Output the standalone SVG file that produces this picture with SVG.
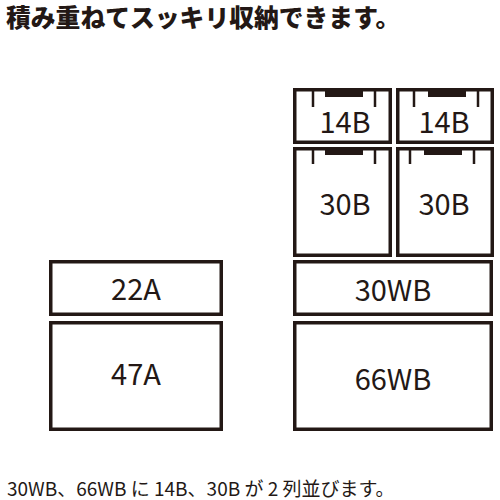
<svg xmlns="http://www.w3.org/2000/svg" width="500" height="500" viewBox="0 0 500 500">
<style>
.box{fill:#fff;stroke:#231815;stroke-width:3.5}
.lbl{font-family:"Noto Sans CJK JP","Noto Sans",sans-serif;font-size:29px;fill:#231815;text-anchor:middle}
.tick{stroke:#231815;stroke-width:2.5}
.bar{fill:#231815}
</style>
<rect width="500" height="500" fill="#fff"/>
<text x="6" y="27" font-family="'Noto Sans CJK JP',sans-serif" font-size="24.8" font-weight="900" fill="#231815">積み重ねてスッキリ収納できます。</text>
<g id="n22A"><rect class="box" x="50.75" y="261.75" width="170.5" height="52.5"/><text class="lbl" x="136" y="300">22A</text></g>
<g id="n47A"><rect class="box" x="50.75" y="322.75" width="170.5" height="106.5"/><text class="lbl" x="136" y="385">47A</text></g>
<g id="n30WB"><rect class="box" x="294.75" y="261.75" width="196.5" height="52.5"/><text class="lbl" x="393" y="301">30WB</text></g>
<g id="n66WB"><rect class="box" x="294.75" y="322.75" width="196.5" height="106.5"/><text class="lbl" x="393" y="390">66WB</text></g>
<g id="n14B1"><rect class="box" x="294.75" y="89.75" width="95.5" height="52.5"/><rect class="bar" x="325" y="89" width="38" height="8"/><line class="tick" x1="313" y1="89" x2="313" y2="107"/><line class="tick" x1="375" y1="89" x2="375" y2="107"/><text class="lbl" x="345" y="133">14B</text></g>
<g id="n14B2"><rect class="box" x="397.75" y="89.75" width="94.5" height="52.5"/><rect class="bar" x="428" y="89" width="38" height="8"/><line class="tick" x1="414" y1="89" x2="414" y2="107"/><line class="tick" x1="478" y1="89" x2="478" y2="107"/><text class="lbl" x="444" y="133">14B</text></g>
<g id="n30B1"><rect class="box" x="294.75" y="148.75" width="95.5" height="106.5"/><rect class="bar" x="325" y="148" width="38" height="7"/><line class="tick" x1="313" y1="148" x2="313" y2="164"/><line class="tick" x1="375" y1="148" x2="375" y2="164"/><text class="lbl" x="345" y="215">30B</text></g>
<g id="n30B2"><rect class="box" x="397.75" y="148.75" width="94.5" height="106.5"/><rect class="bar" x="424" y="148" width="38" height="7"/><line class="tick" x1="410" y1="148" x2="410" y2="164"/><line class="tick" x1="474" y1="148" x2="474" y2="164"/><text class="lbl" x="444" y="215">30B</text></g>
<g id="connectors"></g>
<text x="7" y="496" font-family="'Noto Sans CJK JP',sans-serif" font-size="19" fill="#231815">30WB、66WB に 14B、30B が 2 列並びます。</text>
</svg>
